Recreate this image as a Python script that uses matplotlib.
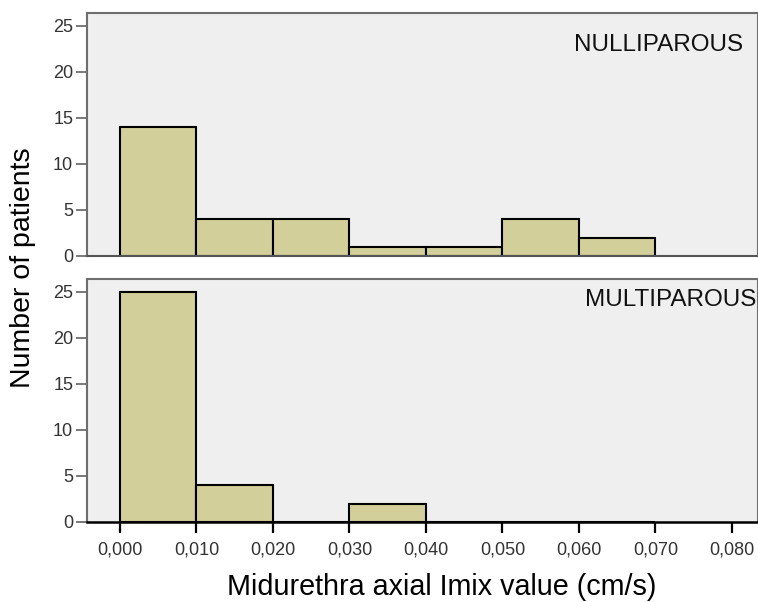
import matplotlib
matplotlib.use("Agg")
import matplotlib.pyplot as plt
import numpy as np

plt.rcParams["font.family"] = ["Liberation Sans", "DejaVu Sans"]

bin_edges = [0.00, 0.01, 0.02, 0.03, 0.04, 0.05, 0.06, 0.07]
nulli_counts = [14, 4, 4, 1, 1, 4, 2]
multi_counts = [25, 4, 0, 2, 0, 0, 0]
panel_labels = ["NULLIPAROUS", "MULTIPAROUS"]
x_ticks = [0.00, 0.01, 0.02, 0.03, 0.04, 0.05, 0.06, 0.07, 0.08]
y_ticks = [0, 5, 10, 15, 20, 25]

bar_color = "#d3cf9a"
bg_color = "#efefef"
spine_gray = "#6e6e6e"

fig = plt.figure(figsize=(7.58, 6.02), dpi=100)
ax1 = fig.add_axes([0.1148, 0.5748, 0.8852, 0.4036])
ax2 = fig.add_axes([0.1148, 0.1329, 0.8852, 0.4036])

lefts = np.array(bin_edges[:-1])
widths = np.diff(bin_edges)

for ax, counts, label, lx, ly in [(ax1, nulli_counts, panel_labels[0], 0.0593, 22.9),
                                  (ax2, multi_counts, panel_labels[1], 0.0608, 24.1)]:
    ax.set_facecolor(bg_color)
    ax.bar(lefts, counts, width=widths, align="edge", color=bar_color,
           edgecolor="black", linewidth=1.5, zorder=2)
    ax.set_xlim(-0.00431, 0.0834)
    ax.set_ylim(0, 26.4)
    ax.set_yticks(y_ticks)
    ax.tick_params(axis="y", direction="out", length=8, width=1.3,
                   color=spine_gray, labelsize=13, labelcolor="#333333", pad=2)
    for s in ["left", "top", "right"]:
        ax.spines[s].set_color(spine_gray)
        ax.spines[s].set_linewidth(1.5)
    ax.text(lx, ly, label, fontsize=17.5, ha="left", va="center", color="#111111")

ax1.spines["bottom"].set_color("#555555")
ax1.spines["bottom"].set_linewidth(1.5)
ax1.set_xticks([])

ax2.spines["bottom"].set_color("black")
ax2.spines["bottom"].set_linewidth(1.8)
ax2.set_xticks(x_ticks)
ax2.set_xticklabels([f"{t:.3f}".replace(".", ",") for t in x_ticks])
ax2.tick_params(axis="x", direction="out", length=8, width=1.6, color="black",
                labelsize=13, labelcolor="#333333", pad=6)

fig.text(0.030, 0.555, "Number of patients", rotation=90, fontsize=20.5,
         ha="center", va="center")
fig.text(0.583, 0.0116, "Midurethra axial Imix value (cm/s)", fontsize=20.7,
         ha="center", va="baseline")

plt.savefig("out.png", dpi=100)
